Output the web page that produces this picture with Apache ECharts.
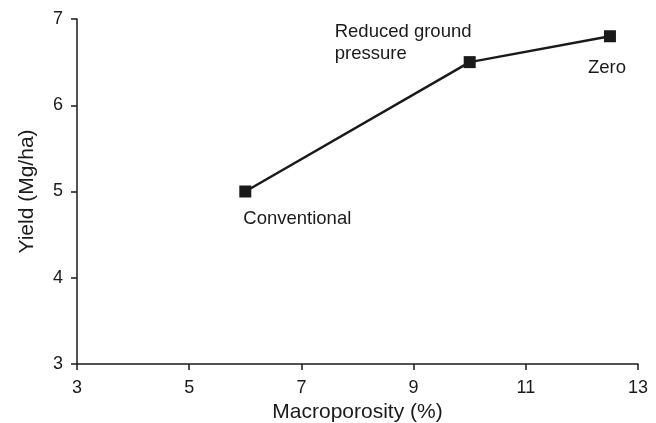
<!DOCTYPE html>
<html>
<head>
<meta charset="utf-8">
<style>
  html, body { margin: 0; padding: 0; background: #fff; }
  #chart { width: 656px; height: 423px; }
</style>
<script src="https://cdn.jsdelivr.net/npm/echarts@6/dist/echarts.min.js"></script>
</head>
<body>
<div id="chart"></div>
<script>
// tillage treatments
const treatments = ["Conventional", "Reduced ground\npressure", "Zero"];
const macroporosity = [6, 10, 12.5];
const yieldMgHa = [5, 6.5, 6.8];

// label offsets from each point (pixels)
const labelOffsets = [[-2, 27], [-135, -19], [-22, 32]];

const ink = "#1a1a1a";
const font = "Liberation Sans, Arial, sans-serif";

const chart = echarts.init(document.getElementById("chart"));

const points = macroporosity.map((x, i) => ({
    value: [x, yieldMgHa[i]],
    label: {
        show: true,
        formatter: treatments[i],
        position: "inside",
        align: "left",
        verticalAlign: "middle",
        offset: labelOffsets[i],
        color: ink,
        fontSize: 18.5,
        lineHeight: 22,
        fontFamily: font
    }
}));

chart.setOption({
    animation: false,
    grid: { left: 77, right: 18, top: 19, bottom: 59, outerBoundsMode: "none" },
    xAxis: {
        type: "value",
        min: 3,
        max: 13,
        interval: 2,
        name: "Macroporosity (%)",
        nameLocation: "middle",
        nameGap: 38,
        nameTextStyle: { color: ink, fontSize: 21, fontFamily: font },
        axisLine: { lineStyle: { color: ink, width: 1.5 } },
        axisTick: { length: 6, lineStyle: { color: ink, width: 1.5 } },
        axisLabel: { margin: 15, color: ink, fontSize: 18, fontFamily: font },
        splitLine: { show: false }
    },
    yAxis: {
        type: "value",
        min: 3,
        max: 7,
        interval: 1,
        name: "Yield (Mg/ha)",
        nameLocation: "middle",
        nameGap: 39,
        nameTextStyle: { color: ink, fontSize: 21, fontFamily: font },
        axisLine: { show: true, lineStyle: { color: ink, width: 1.5 } },
        axisTick: { show: true, length: 6, lineStyle: { color: ink, width: 1.5 } },
        axisLabel: { margin: 14, color: ink, fontSize: 18, fontFamily: font },
        splitLine: { show: false }
    },
    series: [{
        type: "line",
        data: points,
        symbol: "rect",
        symbolSize: 12,
        itemStyle: { color: ink },
        lineStyle: { color: ink, width: 2.5 }
    }]
});
</script>
</body>
</html>
